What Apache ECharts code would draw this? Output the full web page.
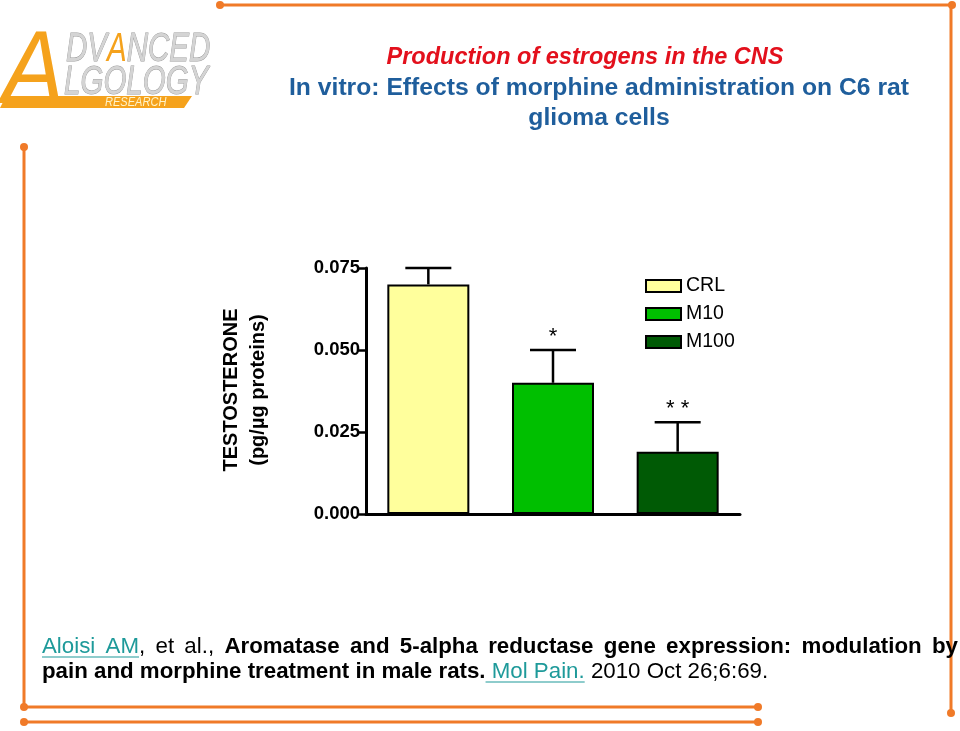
<!DOCTYPE html>
<html>
<head>
<meta charset="utf-8">
<script src="https://cdn.jsdelivr.net/npm/echarts@6/dist/echarts.min.js"></script>
<style>
html,body{margin:0;padding:0;background:#fff;}
#chart{width:960px;height:731px;}
</style>
</head>
<body>
<div id="chart"></div>
<script>
// ---- data ----
var categories = ['CRL', 'M10', 'M100'];
var meanValues = [0.070, 0.040, 0.019];
var semValues = [0.005, 0.010, 0.009];
var starLabels = ['', '*', '* *'];
var yTicks = [0, 0.025, 0.050, 0.075];
var barColors = ['#ffff9c', '#00bf00', '#005a05'];

var titleLines = [
  'Production of estrogens in the CNS',
  'In vitro: Effects of morphine administration on C6 rat',
  'glioma cells'
];

var FONT = "'Liberation Sans', Arial, sans-serif";
var ORANGE = '#f07a28';
var LOGO_OR = '#f5a21c';
var TEAL = '#1e9a9a';

var chart = echarts.init(document.getElementById('chart'), null, {renderer: 'canvas'});

// ---- text measuring for citation ----
var cv = document.createElement('canvas');
var ctx = cv.getContext('2d');
var CIT_SIZE = 22.3;
var styles = {
  link: {font: 'normal ' + CIT_SIZE + 'px ' + FONT, fill: TEAL},
  norm: {font: 'normal ' + CIT_SIZE + 'px ' + FONT, fill: '#000'},
  bold: {font: 'bold ' + CIT_SIZE + 'px ' + FONT, fill: '#000'}
};
function mw(t, s) { ctx.font = styles[s].font; return ctx.measureText(t).width; }

var citLine1 = [
  [['Aloisi', 'link']], [['AM', 'link'], [',', 'norm']], [['et', 'norm']], [['al.,', 'norm']],
  [['Aromatase', 'bold']], [['and', 'bold']], [['5-alpha', 'bold']], [['reductase', 'bold']],
  [['gene', 'bold']], [['expression:', 'bold']], [['modulation', 'bold']], [['by', 'bold']]
];
var citLine2 = [
  ['pain and morphine treatment in male rats.', 'bold'],
  [' Mol Pain.', 'link'],
  [' 2010 Oct 26;6:69.', 'norm']
];

var graphics = [];
// borders
function dot(x, y) { graphics.push({type: 'circle', shape: {cx: x, cy: y, r: 4}, style: {fill: ORANGE}, silent: true}); }
function ln(x1, y1, x2, y2) { graphics.push({type: 'line', shape: {x1: x1, y1: y1, x2: x2, y2: y2}, style: {stroke: ORANGE, lineWidth: 3}, silent: true}); }
ln(220, 5, 952, 5); dot(220, 5); dot(952, 5);
ln(951, 5, 951, 713); dot(951, 713);
ln(24, 147, 24, 707); dot(24, 147);
ln(24, 707, 758, 707); dot(24, 707); dot(758, 707);
ln(24, 722, 758, 722); dot(24, 722); dot(758, 722);

// logo
graphics.push({type: 'polygon', shape: {points: [[6, 96], [192, 96], [184, 108], [0, 108]]}, style: {fill: LOGO_OR}, silent: true});
graphics.push({type: 'text', x: 2, y: 126, scaleX: 0.9, style: {text: 'A', font: 'italic normal 104px ' + FONT, fill: LOGO_OR, textVerticalAlign: 'bottom'}, silent: true});
graphics.push({type: 'text', x: 66, y: 70, scaleX: 0.72, style: {rich: {g: {font: 'italic normal 41px ' + FONT, fill: '#d4d4d4', stroke: '#9a9a9a', lineWidth: 1}, o: {font: 'italic normal 41px ' + FONT, fill: LOGO_OR}}, text: '{g|DV}{o|A}{g|NCED}', textVerticalAlign: 'bottom'}, silent: true});
graphics.push({type: 'text', x: 64, y: 103, scaleX: 0.72, style: {text: 'LGOLOGY', font: 'italic normal 41px ' + FONT, fill: '#d4d4d4', stroke: '#9a9a9a', lineWidth: 1, textVerticalAlign: 'bottom'}, silent: true});
graphics.push({type: 'text', x: 105, y: 102, scaleX: 0.85, style: {text: 'RESEARCH', font: 'italic normal 13px ' + FONT, fill: '#fff3c8', textVerticalAlign: 'middle'}, silent: true});

// title
graphics.push({type: 'text', x: 585, y: 58, style: {text: titleLines[0], font: 'italic bold 23.5px ' + FONT, fill: '#e3101c', textAlign: 'center', textVerticalAlign: 'middle'}, silent: true});
graphics.push({type: 'text', x: 599, y: 88, style: {text: titleLines[1], font: 'bold 24.7px ' + FONT, fill: '#1f5e9c', textAlign: 'center', textVerticalAlign: 'middle'}, silent: true});
graphics.push({type: 'text', x: 599, y: 118, style: {text: titleLines[2], font: 'bold 24.7px ' + FONT, fill: '#1f5e9c', textAlign: 'center', textVerticalAlign: 'middle'}, silent: true});

// y axis name (rotated)
graphics.push({type: 'text', x: 231, y: 390, rotation: Math.PI / 2, style: {text: 'TESTOSTERONE', font: 'bold 20px ' + FONT, fill: '#000', textAlign: 'center', textVerticalAlign: 'middle'}, silent: true});
graphics.push({type: 'text', x: 258, y: 390, rotation: Math.PI / 2, style: {text: '(pg/\u00b5g proteins)', font: 'bold 20px ' + FONT, fill: '#000', textAlign: 'center', textVerticalAlign: 'middle'}, silent: true});

// citation line 1 (justified)
var L = 42, R = 958, Y1 = 647, Y2 = 672;
var wordW = citLine1.map(function (w) { return w.reduce(function (a, p) { return a + mw(p[0], p[1]); }, 0); });
var totalW = wordW.reduce(function (a, b) { return a + b; }, 0);
var gap = (R - L - totalW) / (citLine1.length - 1);
var cx = L;
var ulStart = L, ulEnd = L;
citLine1.forEach(function (w, i) {
  var px = cx;
  w.forEach(function (p) {
    graphics.push({type: 'text', x: px, y: Y1, style: {text: p[0], font: styles[p[1]].font, fill: styles[p[1]].fill, textVerticalAlign: 'middle'}, silent: true});
    if (p[1] === 'link') ulEnd = px + mw(p[0], p[1]);
    px += mw(p[0], p[1]);
  });
  cx += wordW[i] + gap;
});
graphics.push({type: 'line', shape: {x1: ulStart, y1: Y1 + 10, x2: ulEnd, y2: Y1 + 10}, style: {stroke: TEAL, lineWidth: 1.2}, silent: true});
// citation line 2
cx = L;
citLine2.forEach(function (p) {
  var w = mw(p[0], p[1]);
  graphics.push({type: 'text', x: cx, y: Y2, style: {text: p[0], font: styles[p[1]].font, fill: styles[p[1]].fill, textVerticalAlign: 'middle'}, silent: true});
  if (p[1] === 'link') graphics.push({type: 'line', shape: {x1: cx, y1: Y2 + 10, x2: cx + w, y2: Y2 + 10}, style: {stroke: TEAL, lineWidth: 1.2}, silent: true});
  cx += w;
});

// ---- series ----
var series = categories.map(function (c, i) {
  return {
    name: c,
    type: 'bar',
    barWidth: 82,
    barGap: '-100%',
    data: categories.map(function (cc, j) { return j === i ? meanValues[i] : '-'; }),
    itemStyle: {color: barColors[i], borderColor: '#000', borderWidth: 2},
    silent: true,
    z: 2
  };
});
series.push({
  type: 'custom',
  name: 'err',
  silent: true,
  z: 1,
  data: categories.map(function (c, i) { return [i, meanValues[i], semValues[i], starLabels[i]]; }),
  renderItem: function (params, api) {
    var idx = api.value(0);
    var m = api.value(1), s = api.value(2);
    var p0 = api.coord([idx, m]);
    var p1 = api.coord([idx, m + s]);
    var hw = 23;
    var st = starLabels[params.dataIndex];
    var children = [
      {type: 'line', shape: {x1: p0[0], y1: p0[1], x2: p1[0], y2: p1[1]}, style: {stroke: '#000', lineWidth: 2.5}},
      {type: 'line', shape: {x1: p1[0] - hw, y1: p1[1], x2: p1[0] + hw, y2: p1[1]}, style: {stroke: '#000', lineWidth: 2.5}}
    ];
    if (st) children.push({type: 'text', x: p1[0], y: p1[1] - 13, style: {text: st, font: 'normal 22px ' + FONT, fill: '#000', textAlign: 'center', textVerticalAlign: 'middle'}});
    return {type: 'group', children: children};
  }
});

chart.setOption({
  animation: false,
  backgroundColor: '#fff',
  grid: {left: 366, top: 268, width: 374, height: 246, containLabel: false},
  legend: {
    data: categories,
    orient: 'vertical',
    left: 645, top: 276,
    padding: 0,
    itemWidth: 35, itemHeight: 12, itemGap: 8,
    icon: 'rect',
    selectedMode: false,
    textStyle: {fontSize: 19.5, color: '#000', fontFamily: FONT}
  },
  xAxis: {
    type: 'category',
    data: categories,
    axisLine: {lineStyle: {color: '#000', width: 3}},
    axisTick: {show: false},
    axisLabel: {show: false},
    splitLine: {show: false}
  },
  yAxis: {
    type: 'value',
    min: yTicks[0], max: yTicks[yTicks.length - 1], interval: 0.025,
    axisLine: {show: true, lineStyle: {color: '#000', width: 3}},
    axisTick: {show: true, length: 8, lineStyle: {color: '#000', width: 2.5}},
    axisLabel: {margin: 6, color: '#000', fontFamily: FONT, fontWeight: 'bold', fontSize: 18.5,
      formatter: function (v) { return v.toFixed(3); }},
    splitLine: {show: false}
  },
  graphic: graphics,
  series: series
});
</script>
</body>
</html>
